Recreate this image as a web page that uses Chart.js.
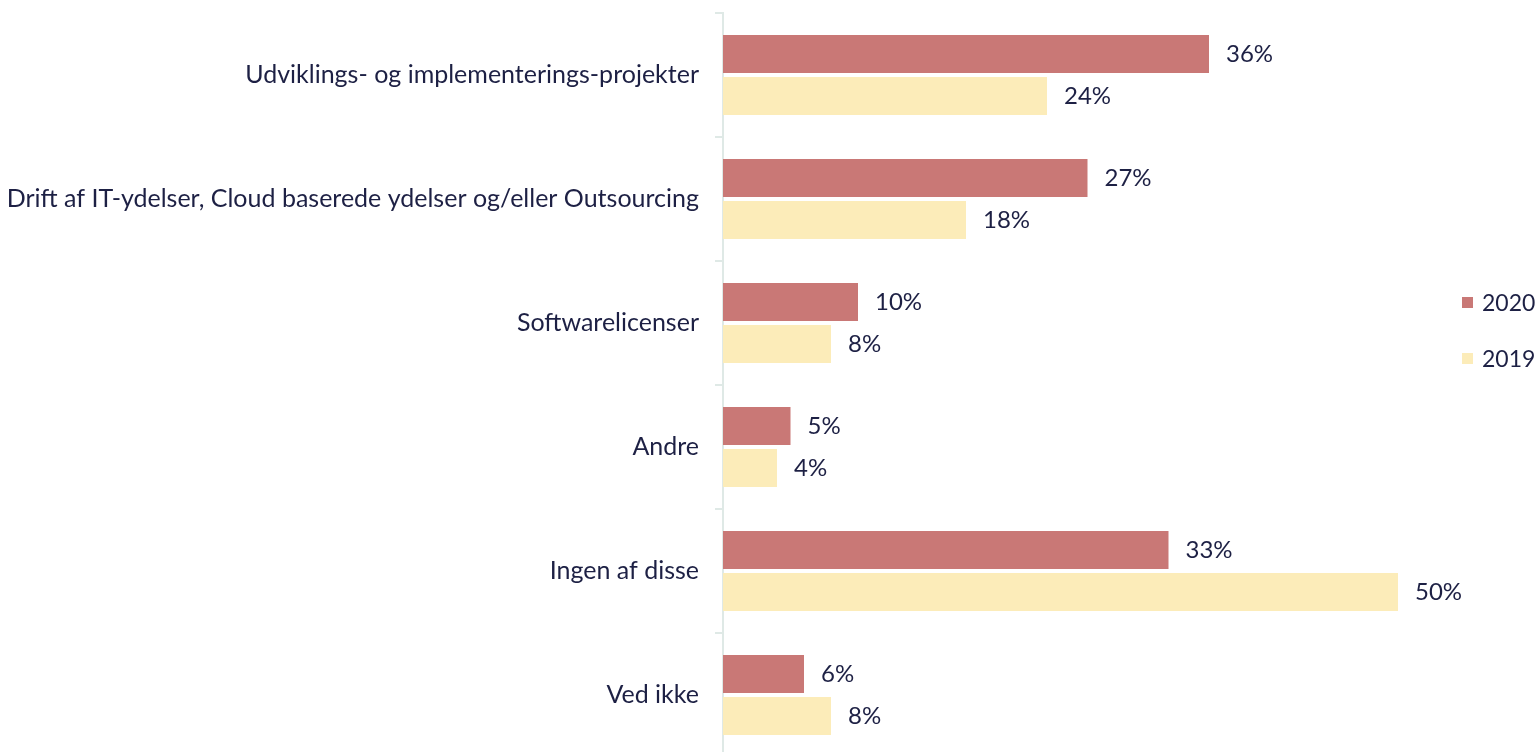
<!DOCTYPE html>
<html>
<head>
<meta charset="utf-8">
<script src="https://cdn.jsdelivr.net/npm/chart.js@4/dist/chart.umd.min.js"></script>
<style>
  html, body { margin: 0; padding: 0; background: #fff; overflow: hidden; }
  #wrap { position: relative; width: 1539px; height: 806px; margin-top: -18px; }
  #legend { position: absolute; left: 1462px; top: 304px; font-family: Lato, "Open Sans", sans-serif; font-size: 23px; color: #1d2044; }
  .item { display: flex; align-items: center; height: 32px; margin-bottom: 24px; }
  .box { width: 11px; height: 11px; margin-right: 9px; }
</style>
</head>
<body>
<div id="wrap">
  <canvas id="chart"></canvas>
  <div id="legend"></div>
</div>
<script>
const CATEGORIES = [
  "Udviklings- og implementerings-projekter",
  "Drift af IT-ydelser, Cloud baserede ydelser og/eller Outsourcing",
  "Softwarelicenser",
  "Andre",
  "Ingen af disse",
  "Ved ikke",
];
const SERIES_2020 = [36, 27, 10, 5, 33, 6];
const SERIES_2019 = [24, 18, 8, 4, 50, 8];
const SERIES_NAMES = ["2020", "2019"];
const COLORS = ["#c97876", "#fcecb9"];
const TEXT = "#1d2044";
const FONT = "Lato, 'Open Sans', sans-serif";

// value labels at the end of each bar
const valueLabels = {
  id: "valueLabels",
  afterDatasetsDraw(chart) {
    const ctx = chart.ctx;
    ctx.save();
    ctx.fillStyle = TEXT;
    ctx.font = "24px " + FONT;
    ctx.textBaseline = "middle";
    ctx.textAlign = "left";
    chart.data.datasets.forEach((ds, i) => {
      chart.getDatasetMeta(i).data.forEach((bar, j) => {
        ctx.fillText(ds.data[j] + "%", bar.x + 17, bar.y);
      });
    });
    ctx.restore();
  },
};

const legend = document.getElementById("legend");
SERIES_NAMES.forEach((name, i) => {
  const row = document.createElement("div");
  row.className = "item";
  row.innerHTML = `<span class="box" style="background:${COLORS[i]}"></span><span>${name}</span>`;
  legend.appendChild(row);
});

new Chart(document.getElementById("chart"), {
  type: "bar",
  data: {
    labels: CATEGORIES,
    datasets: [
      { label: SERIES_NAMES[0], data: SERIES_2020, backgroundColor: COLORS[0] },
      { label: SERIES_NAMES[1], data: SERIES_2019, backgroundColor: COLORS[1] },
    ],
  },
  options: {
    indexAxis: "y",
    responsive: true,
    maintainAspectRatio: false,
    animation: false,
    categoryPercentage: 0.68,
    barPercentage: 0.9,
    layout: { padding: { top: 13, bottom: 13, right: 6, left: 0 } },
    plugins: { legend: { display: false }, tooltip: { enabled: false } },
    scales: {
      x: { display: false, min: 0, max: 60 },
      y: {
        afterFit(scale) { scale.width = 723; },
        border: { display: true, color: "#dfe9e6", width: 2 },
        grid: { offset: true, drawOnChartArea: false, drawTicks: true, tickLength: 8, color: "#dfe9e6", lineWidth: 2 },
        ticks: { color: TEXT, font: { family: FONT, size: 25 }, padding: 16 },
      },
    },
  },
  plugins: [valueLabels],
});
</script>
</body>
</html>
